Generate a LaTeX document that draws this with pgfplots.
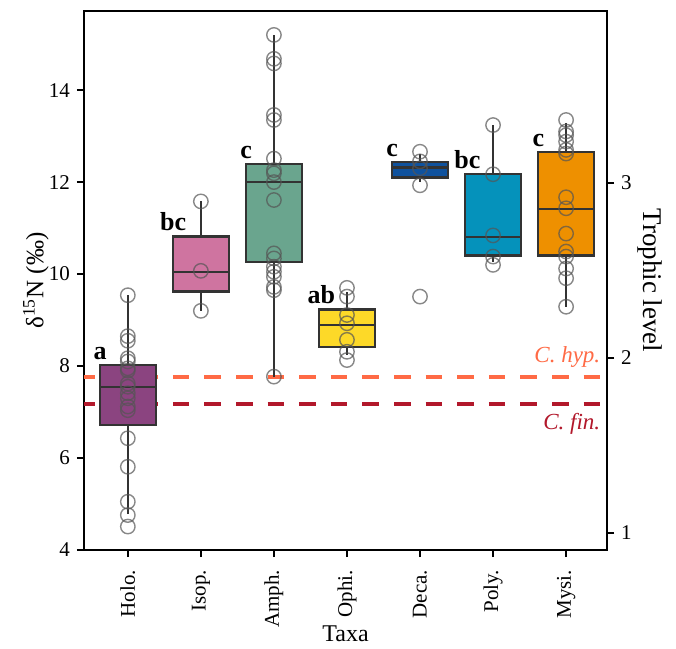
\documentclass[border=0pt]{standalone}
\usepackage{fontspec}
\setmainfont{Liberation Serif}
\usepackage{pgfplots}
\pgfplotsset{compat=1.18}
\usepgfplotslibrary{statistics}
\definecolor{cholo}{RGB}{139,68,128}
\definecolor{cisop}{RGB}{207,116,160}
\definecolor{camph}{RGB}{106,165,142}
\definecolor{cophi}{RGB}{253,217,40}
\definecolor{cdeca}{RGB}{15,82,158}
\definecolor{cpoly}{RGB}{5,146,187}
\definecolor{cmysi}{RGB}{238,144,0}
\definecolor{cedge}{RGB}{51,51,51}
\definecolor{chyp}{RGB}{255,106,69}
\definecolor{cfin}{RGB}{178,24,43}
\definecolor{cpt}{RGB}{85,85,85}
\pgfplotsset{
  bx/.style={boxplot prepared, draw=cedge, line width=1.2pt, solid,
     boxplot/box extend=0.77, boxplot/whisker extend=0, boxplot/draw direction=y},
  pts/.style={only marks, mark=o, mark size=3.6pt, draw=cpt, draw opacity=0.7,
     mark options={line width=0.7pt, solid}},
}
\tikzset{
  lett/.style={anchor=south, inner sep=1pt, yshift=1.5pt, font=\bfseries\fontsize{13}{13}\selectfont},
}
\begin{document}
\begin{tikzpicture}
\begin{axis}[name=main, scale only axis, width=261.5pt, height=269.5pt,
  xmin=-0.6, xmax=6.56, ymin=4, ymax=15.72,
  boxplot/draw direction=y,
  xtick={0,1,2,3,4,5,6},
  xticklabels={Holo.,Isop.,Amph.,Ophi.,Deca.,Poly.,Mysi.},
  x tick label style={rotate=90, anchor=east, yshift=0pt, xshift=-3pt},
  ytick={4,6,8,10,12,14},
  xtick pos=bottom, ytick pos=left, tick align=outside,
  major tick length=3.5pt,
  tick style={line width=0.9pt, black},
  axis line style={line width=0.9pt},
  /pgf/number format/assume math mode=true,
  tick label style={font=\fontsize{10.5}{12}\selectfont},
  xlabel={Taxa}, ylabel={δ\textsuperscript{15}N (‰)},
  every axis x label/.style={at={(axis description cs:0.5,-0.156)}, anchor=center, font=\fontsize{12}{13}\selectfont},
  every axis y label/.style={at={(axis description cs:-0.092,0.5)}, anchor=center, rotate=90, font=\fontsize{12.5}{13}\selectfont},
  clip=false,
]
\coordinate (bl) at (rel axis cs:0,0);
\coordinate (tr) at (rel axis cs:1,1);
% reference lines
\addplot[chyp, line width=2pt, dash pattern=on 8.3pt off 7.5pt, dash phase=3pt] coordinates {(-0.6,7.76) (6.5,7.76)};
\addplot[cfin, line width=2pt, dash pattern=on 8.3pt off 7.5pt, dash phase=3pt] coordinates {(-0.6,7.17) (6.5,7.17)};
\node[anchor=south east, inner sep=1pt, yshift=3.5pt, text=chyp, font=\itshape\fontsize{11.5}{12}\selectfont] at (axis cs:6.5,7.76) {C. hyp.};
\node[anchor=north east, inner sep=1pt, yshift=-3.5pt, text=cfin, font=\itshape\fontsize{11.5}{12}\selectfont] at (axis cs:6.5,7.17) {C. fin.};
% boxes
\addplot[bx, fill=cholo, boxplot prepared={draw position=0, lower whisker=4.78, lower quartile=6.72, median=7.55, upper quartile=8.02, upper whisker=9.54}] coordinates {};
\addplot[bx, fill=cisop, boxplot prepared={draw position=1, lower whisker=9.2, lower quartile=9.62, median=10.05, upper quartile=10.82, upper whisker=11.58}] coordinates {};
\addplot[bx, fill=camph, boxplot prepared={draw position=2, lower whisker=7.77, lower quartile=10.26, median=12.0, upper quartile=12.39, upper whisker=15.2}] coordinates {};
\addplot[bx, fill=cophi, boxplot prepared={draw position=3, lower whisker=8.24, lower quartile=8.42, median=8.89, upper quartile=9.23, upper whisker=9.62}] coordinates {};
\addplot[bx, fill=cdeca, boxplot prepared={draw position=4, lower whisker=12.0, lower quartile=12.1, median=12.32, upper quartile=12.44, upper whisker=12.6}] coordinates {};
\addplot[bx, fill=cpoly, boxplot prepared={draw position=5, lower whisker=10.26, lower quartile=10.4, median=10.81, upper quartile=12.17, upper whisker=13.24}] coordinates {};
\addplot[bx, fill=cmysi, boxplot prepared={draw position=6, lower whisker=9.29, lower quartile=10.4, median=11.41, upper quartile=12.66, upper whisker=13.29}] coordinates {};
% points
\addplot[pts] coordinates {
 (0,9.54) (0,8.65) (0,8.55) (0,8.17) (0,8.1) (0,7.95) (0,7.9) (0,7.62) (0,7.55) (0,7.41) (0,7.3) (0,7.12) (0,7.04) (0,6.43) (0,5.81) (0,5.05) (0,4.76) (0,4.51)
 (1,11.58) (1,10.07) (1,9.2)
 (2,15.2) (2,14.68) (2,14.58) (2,13.46) (2,13.35) (2,12.51) (2,12.26) (2,12.19) (2,12.0) (2,11.61) (2,10.45) (2,10.34) (2,10.16) (2,10.05) (2,9.94) (2,9.72) (2,9.65) (2,7.77)
 (3,9.7) (3,9.51) (3,9.11) (3,8.93) (3,8.57) (3,8.31) (3,8.13)
 (4,12.66) (4,12.45) (4,12.3) (4,11.93) (4,9.51)
 (5,13.24) (5,12.17) (5,10.84) (5,10.38) (5,10.2)
 (6,13.35) (6,13.1) (6,13.02) (6,12.88) (6,12.7) (6,12.62) (6,11.67) (6,11.43) (6,10.88) (6,10.49) (6,10.38) (6,10.12) (6,9.91) (6,9.29)
};
% letters
\node[lett] at (axis cs:-0.38,8.02) {a};
\node[lett] at (axis cs:0.62,10.82) {bc};
\node[lett] at (axis cs:1.62,12.39) {c};
\node[lett] at (axis cs:2.65,9.23) {ab};
\node[lett] at (axis cs:3.62,12.44) {c};
\node[lett] at (axis cs:4.65,12.17) {bc};
\node[lett] at (axis cs:5.62,12.66) {c};
\end{axis}
\begin{axis}[scale only axis, width=261.5pt, height=269.5pt,
  xmin=-0.6, xmax=6.56, ymin=0.903, ymax=3.98,
  axis x line=none, axis y line*=right,
  ytick={1,2,3}, tick align=outside, major tick length=3.5pt,
  tick style={line width=0.9pt, black},
  axis line style={line width=0.9pt},
  /pgf/number format/assume math mode=true,
  tick label style={font=\fontsize{10.5}{12}\selectfont},
  ylabel={Trophic level},
  every axis y label/.style={at={(axis description cs:1.082,0.5)}, anchor=center, rotate=-90, font=\fontsize{13.5}{14}\selectfont},
]
\end{axis}
\path ([shift={(-42pt,-49pt)}]bl) rectangle ([shift={(34.5pt,5.5pt)}]tr);
\end{tikzpicture}
\end{document}
